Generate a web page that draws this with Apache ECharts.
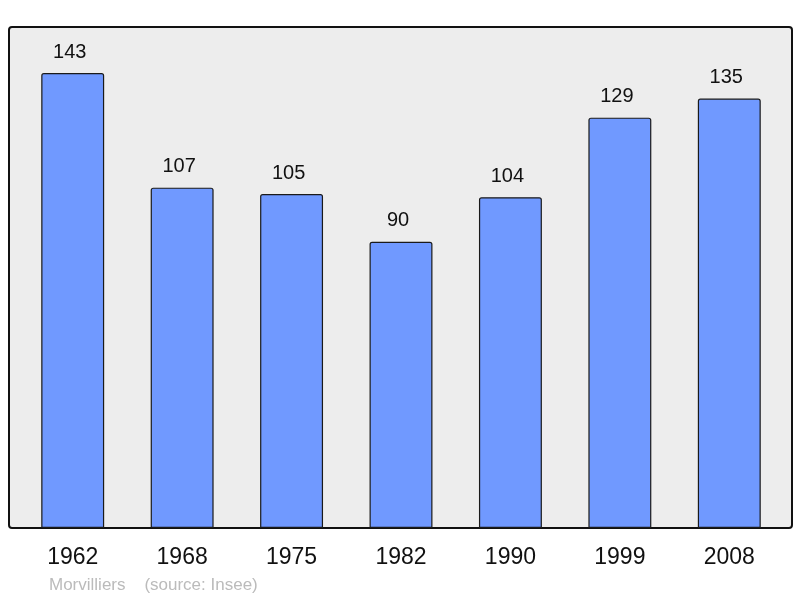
<!DOCTYPE html>
<html>
<head>
<meta charset="utf-8">
<script src="https://cdn.jsdelivr.net/npm/echarts@6/dist/echarts.min.js"></script>
<style>
  html, body { margin: 0; padding: 0; background: #fff; }
  #chart { width: 800px; height: 598px; }
</style>
</head>
<body>
<div id="chart"></div>
<script>
const years = ['1962', '1968', '1975', '1982', '1990', '1999', '2008']
const population = [143, 107, 105, 90, 104, 129, 135]
const sourceText = 'Morvilliers    (source: Insee)'

const chart = echarts.init(document.getElementById('chart'))
chart.setOption({
  animation: false,
  graphic: [{
    type: 'rect',
    z: -10,
    shape: { x: 9, y: 27, width: 783, height: 501, r: 3 },
    style: { fill: '#ededed', stroke: '#111', lineWidth: 2 }
  }, {
    type: 'text',
    left: 49,
    top: 577,
    style: {
      text: sourceText,
      fill: '#bbbbbb',
      fontSize: 17,
      fontFamily: 'Liberation Sans'
    }
  }],
  grid: {
    left: 18,
    right: 16,
    top: 27,
    bottom: 70
  },
  xAxis: {
    type: 'category',
    data: years,
    axisLine: { show: false },
    axisTick: { show: false },
    axisLabel: {
      margin: 18,
      fontSize: 23,
      color: '#111',
      fontFamily: 'Liberation Sans'
    }
  },
  yAxis: {
    type: 'value',
    min: 0,
    max: 157.5,
    show: false,
    splitLine: { show: false }
  },
  series: [{
    type: 'bar',
    data: population,
    barWidth: '57.5%',
    itemStyle: {
      color: '#7099ff',
      borderColor: '#1a1a1a',
      borderWidth: 1.2,
      borderRadius: [2, 2, 0, 0]
    },
    label: {
      show: true,
      position: 'top',
      distance: 11,
      offset: [-3, 0],
      fontSize: 20,
      color: '#111',
      fontFamily: 'Liberation Sans'
    }
  }]
})
</script>
</body>
</html>
